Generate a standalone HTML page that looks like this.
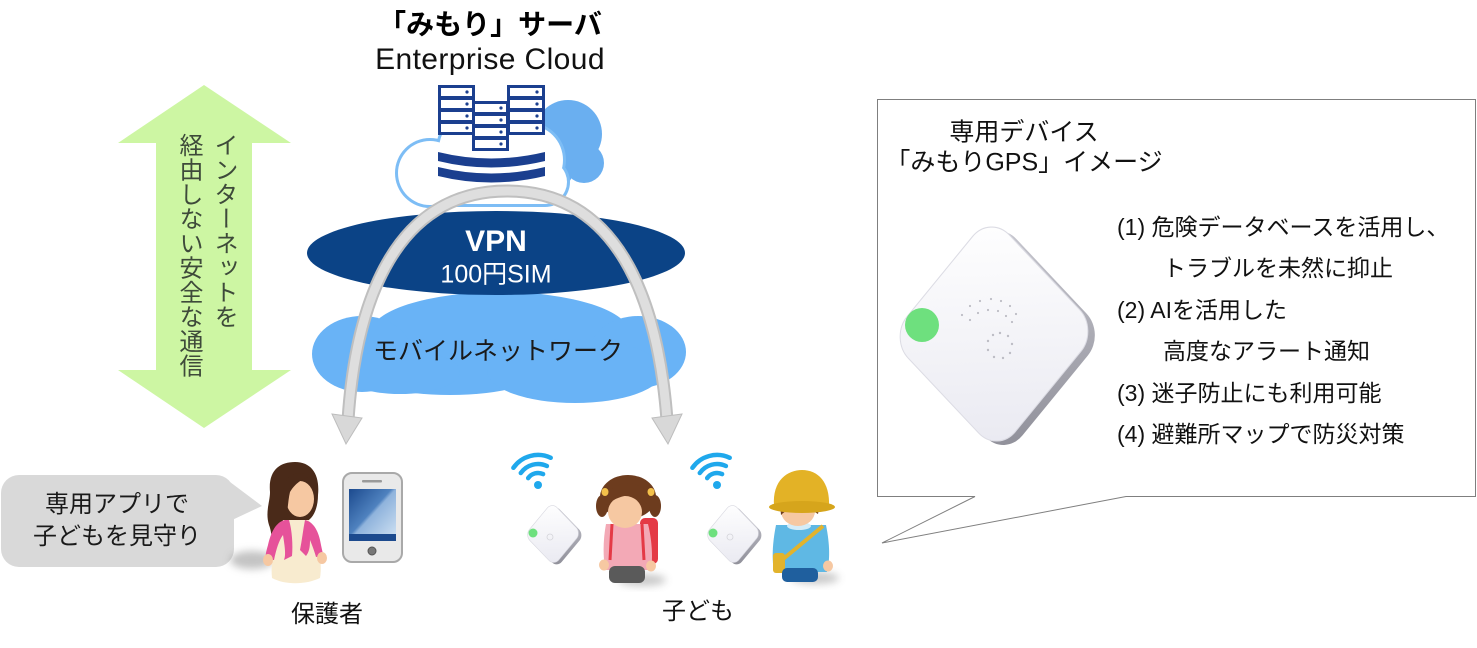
<!DOCTYPE html>
<html><head><meta charset="utf-8">
<style>
html,body{margin:0;padding:0;background:#fff;}
body{width:1477px;height:648px;position:relative;overflow:hidden;font-family:"Liberation Sans","Noto Sans CJK JP",sans-serif;color:#000;}
svg{position:absolute;left:0;top:0;}
.t{position:absolute;white-space:nowrap;line-height:1;}
.c{transform:translate(-50%,-50%);}
.li{position:absolute;left:1117px;font-size:23px;line-height:23px;white-space:nowrap;color:#111;}
</style></head><body>
<svg width="1477" height="648" viewBox="0 0 1477 648">
<defs>
<filter id="blur" x="-50%" y="-50%" width="200%" height="200%"><feGaussianBlur stdDeviation="4"/></filter>
<linearGradient id="scr" x1="0" y1="0" x2="1" y2="1"><stop offset="0" stop-color="#1c4a8e"/><stop offset=".45" stop-color="#4f82bf"/><stop offset=".5" stop-color="#8fb3dc"/><stop offset="1" stop-color="#d3e4f4"/></linearGradient>
<linearGradient id="dev" x1="0" y1="0" x2="1" y2="1"><stop offset="0" stop-color="#ffffff"/><stop offset="1" stop-color="#e9e9f1"/></linearGradient>
<linearGradient id="edge" x1="0" y1="0" x2="1" y2="1"><stop offset="0" stop-color="#c8c8d0"/><stop offset="1" stop-color="#8e8e98"/></linearGradient>
</defs>

<!-- green double arrow -->
<polygon points="204,85 291,143 252,143 252,370 291,370 204,428 118,370 156,370 156,143 118,143" fill="#cdf6a3"/>

<!-- server cloud back (filled) -->
<g fill="#6aaff0">
<circle cx="568" cy="134" r="34"/>
<circle cx="584" cy="163" r="20"/>
<circle cx="552" cy="168" r="22"/>
</g>
<!-- front cloud outline -->
<g fill="#7dbdf5">
<circle cx="430" cy="173" r="35"/>
<circle cx="480" cy="150" r="44"/>
<circle cx="528" cy="160" r="38"/>
<circle cx="545" cy="182" r="25"/>
<rect x="430" y="165" width="115" height="42"/>
</g>
<g fill="#fff">
<circle cx="430" cy="173" r="32"/>
<circle cx="480" cy="150" r="41"/>
<circle cx="528" cy="160" r="35"/>
<circle cx="545" cy="182" r="22"/>
<rect x="430" y="165" width="115" height="39"/>
</g>

<!-- servers -->
<g fill="#1b3f8f">
<rect x="438" y="85" width="37" height="50"/>
<rect x="507" y="85" width="38" height="50"/>
<rect x="472" y="101" width="37" height="50"/>
<path d="M438,152 Q491,165 545,152 L545,161 Q491,174 438,161Z"/>
<path d="M438,167 Q491,180 545,167 L545,176 Q491,189 438,176Z"/>
</g>
<g fill="#fff">
<rect x="441" y="88" width="31" height="8"/><rect x="441" y="100" width="31" height="8"/><rect x="441" y="112" width="31" height="8"/><rect x="441" y="124" width="31" height="8"/>
<rect x="510" y="88" width="32" height="8"/><rect x="510" y="100" width="32" height="8"/><rect x="510" y="112" width="32" height="8"/><rect x="510" y="124" width="32" height="8"/>
<rect x="475" y="104" width="31" height="8"/><rect x="475" y="116" width="31" height="8"/><rect x="475" y="128" width="31" height="8"/><rect x="475" y="140" width="31" height="8"/>
</g>
<g fill="#1b3f8f">
<circle cx="467" cy="92" r="1.6"/><circle cx="467" cy="104" r="1.6"/><circle cx="467" cy="116" r="1.6"/><circle cx="467" cy="128" r="1.6"/>
<circle cx="537" cy="92" r="1.6"/><circle cx="537" cy="104" r="1.6"/><circle cx="537" cy="116" r="1.6"/><circle cx="537" cy="128" r="1.6"/>
<circle cx="501" cy="108" r="1.6"/><circle cx="501" cy="120" r="1.6"/><circle cx="501" cy="132" r="1.6"/><circle cx="501" cy="144" r="1.6"/>
</g>

<!-- mobile network cloud -->
<g fill="#69b3f6">
<ellipse cx="500" cy="334" rx="130" ry="42"/>
<ellipse cx="362" cy="354" rx="50" ry="38"/>
<ellipse cx="638" cy="352" rx="48" ry="36"/>
<ellipse cx="450" cy="368" rx="95" ry="27"/>
<ellipse cx="575" cy="371" rx="88" ry="32"/>
<ellipse cx="400" cy="372" rx="60" ry="22"/>
</g>
<!-- VPN ellipse -->
<ellipse cx="496" cy="253" rx="189" ry="42" fill="#0b4386"/>

<!-- arch arrow -->
<path d="M348,420 C356,300 396,191 507,191 C618,191 658,300 667,420" fill="none" stroke="#bfbfbf" stroke-width="13"/>
<path d="M348,420 C356,300 396,191 507,191 C618,191 658,300 667,420" fill="none" stroke="#dedede" stroke-width="9"/>
<polygon points="332,414 362,418 346,444" fill="#d8d8d8" stroke="#bdbdbd" stroke-width="1"/>
<polygon points="652,418 682,414 668,444" fill="#d8d8d8" stroke="#bdbdbd" stroke-width="1"/>

<!-- bubble -->
<rect x="1" y="475" width="233" height="92" rx="18" fill="#d9d9d9"/>
<polygon points="226,479 262,506 230,521" fill="#d9d9d9"/>

<!-- mother -->
<ellipse cx="252" cy="560" rx="22" ry="9" fill="#888" opacity=".5" filter="url(#blur)"/>
<path d="M270,492 C268,470 280,462 295,462 C312,462 320,475 318,495 C318,510 312,520 305,522 L287,522 C284,535 286,548 278,556 C271,548 273,535 269,525 C265,512 270,502 270,492Z" fill="#4a2a19"/>
<path d="M283,520 L309,520 C317,540 323,560 320,578 C305,585 285,585 272,578 C270,560 276,540 283,520Z" fill="#f8ebcf"/>
<path d="M285,520 C276,522 271,532 268,545 C266,552 265,556 266,560 L274,560 C276,550 279,540 283,535 C285,548 286,555 284,560 L292,556 C293,545 292,530 289,520Z" fill="#e6529a"/>
<path d="M305,520 C314,522 319,532 321,545 C322,550 323,553 323,556 L316,557 C314,550 312,545 310,540 C310,548 309,552 306,556 L300,550 C302,540 303,530 305,520Z" fill="#e6529a"/>
<ellipse cx="268" cy="560" rx="5" ry="6" fill="#f6c8a2"/>
<ellipse cx="322" cy="558" rx="5" ry="6" fill="#f6c8a2"/>
<ellipse cx="300" cy="499" rx="14" ry="18" fill="#f6c8a2"/>
<path d="M284,488 C286,474 298,470 312,476 C304,478 296,482 290,492 C288,500 288,510 286,518 C283,508 283,496 284,488Z" fill="#4a2a19"/>

<!-- phone -->
<rect x="343" y="473" width="59" height="89" rx="9" fill="#e9e9e9" stroke="#a9a9a9" stroke-width="2"/>
<rect x="362" y="480" width="20" height="2.5" rx="1" fill="#9a9a9a"/>
<rect x="349" y="489" width="47" height="52" fill="url(#scr)"/>
<rect x="349" y="534" width="47" height="7" fill="#1c4a8e"/>
<circle cx="372" cy="551" r="4" fill="#777" stroke="#555" stroke-width="1"/>

<!-- wifi 1 -->
<g fill="none" stroke="#1fa8ec" stroke-width="4.5" stroke-linecap="round" transform="translate(538,485)">
<path d="M-9.8,-6.9 A12,12 0 0 1 5.1,-10.9"/>
<path d="M-17.2,-12 A21,21 0 0 1 8.9,-19"/>
<path d="M-24.6,-17.2 A30,30 0 0 1 12.7,-27.2"/>
<circle cx="0" cy="0" r="4" fill="#1fa8ec" stroke="none"/>
</g>
<!-- wifi 2 -->
<g fill="none" stroke="#1fa8ec" stroke-width="4.5" stroke-linecap="round" transform="translate(717,485)">
<path d="M-9.8,-6.9 A12,12 0 0 1 5.1,-10.9"/>
<path d="M-17.2,-12 A21,21 0 0 1 8.9,-19"/>
<path d="M-24.6,-17.2 A30,30 0 0 1 12.7,-27.2"/>
<circle cx="0" cy="0" r="4" fill="#1fa8ec" stroke="none"/>
</g>

<!-- small device 1 -->
<g transform="translate(556,536) scale(1,1.12) rotate(43)"><rect x="-20" y="-20" width="40" height="40" rx="7" fill="url(#edge)"/></g>
<g transform="translate(553,534) scale(1,1.12) rotate(43)"><rect x="-20" y="-20" width="40" height="40" rx="7" fill="url(#dev)" stroke="#d8d8e0" stroke-width=".6"/></g>
<circle cx="533" cy="533" r="4.5" fill="#6ee07e"/>
<circle cx="550" cy="537" r="3" fill="none" stroke="#d4d4da" stroke-width=".8"/>
<!-- small device 2 -->
<g transform="translate(736,536) scale(1,1.12) rotate(43)"><rect x="-20" y="-20" width="40" height="40" rx="7" fill="url(#edge)"/></g>
<g transform="translate(733,534) scale(1,1.12) rotate(43)"><rect x="-20" y="-20" width="40" height="40" rx="7" fill="url(#dev)" stroke="#d8d8e0" stroke-width=".6"/></g>
<circle cx="713" cy="533" r="4.5" fill="#6ee07e"/>
<circle cx="730" cy="537" r="3" fill="none" stroke="#d4d4da" stroke-width=".8"/>

<!-- girl -->
<ellipse cx="642" cy="580" rx="24" ry="6" fill="#888" opacity=".45" filter="url(#blur)"/>
<rect x="640" y="518" width="18" height="46" rx="5" fill="#e43a46"/>
<ellipse cx="628" cy="497" rx="28" ry="22" fill="#6d3c1e"/>
<ellipse cx="602" cy="506" rx="6" ry="11" fill="#6d3c1e"/>
<ellipse cx="655" cy="506" rx="6" ry="11" fill="#6d3c1e"/>
<ellipse cx="605" cy="492" rx="3.5" ry="4" fill="#f3c14b"/>
<ellipse cx="651" cy="492" rx="3.5" ry="4" fill="#f3c14b"/>
<path d="M606,524 L648,524 C652,540 653,558 651,570 L605,570 C603,555 603,540 606,524Z" fill="#f3a9b6"/>
<ellipse cx="625" cy="512" rx="17" ry="16" fill="#f6c8a2"/>
<path d="M606,505 C606,488 620,481 634,484 C646,487 652,496 650,508 C644,498 634,494 624,496 C616,498 610,502 606,505Z" fill="#6d3c1e"/>
<path d="M612,524 L610,560 M642,524 L644,560" stroke="#e43a46" stroke-width="3"/>
<ellipse cx="604" cy="565" rx="5" ry="5.5" fill="#f6c8a2"/>
<ellipse cx="651" cy="566" rx="5" ry="5.5" fill="#f6c8a2"/>
<rect x="609" y="566" width="36" height="17" rx="6" fill="#5a5a5a"/>

<!-- boy -->
<ellipse cx="815" cy="578" rx="24" ry="6" fill="#888" opacity=".45" filter="url(#blur)"/>
<path d="M776,525 L826,525 C830,545 830,560 827,572 L774,572 C772,560 772,545 776,525Z" fill="#5fb8e4"/>
<ellipse cx="799" cy="526" rx="12" ry="4" fill="#d4ecf8"/>
<ellipse cx="798" cy="511" rx="17" ry="15" fill="#f6c8a2"/>
<path d="M780,504 L820,504 L818,514 C812,510 806,508 800,508 C792,508 786,510 781,515Z" fill="#6b3a1e"/>
<path d="M774,506 C772,480 788,470 802,470 C818,470 830,482 829,506 Z" fill="#e3b226"/>
<ellipse cx="802" cy="507" rx="33" ry="6" fill="#d6a51c"/>
<line x1="823" y1="526" x2="782" y2="560" stroke="#e2b32c" stroke-width="4"/>
<rect x="773" y="553" width="12" height="20" rx="3" fill="#e2b32c"/>
<rect x="782" y="568" width="36" height="14" rx="5" fill="#1f5f9e"/>
<ellipse cx="828" cy="566" rx="5" ry="5.5" fill="#f6c8a2"/>

<!-- callout box -->
<path d="M877.5,99.5 H1475.5 V496.5 H1126 L882,543 L975,496.5 H877.5 Z" fill="#fff" stroke="#7f7f7f" stroke-width="1"/>

<!-- big device -->
<g transform="translate(1001,338) scale(1,1.14) rotate(43)"><rect x="-74" y="-74" width="148" height="148" rx="26" fill="url(#edge)"/></g>
<g transform="translate(994,334) scale(1,1.14) rotate(43)"><rect x="-74" y="-74" width="148" height="148" rx="26" fill="url(#dev)" stroke="#dcdce4" stroke-width="1"/></g>
<circle cx="922" cy="325" r="17" fill="#6ee07e"/>
<g fill="#bdbdc5">
<circle cx="1000" cy="333" r="1.2"/><circle cx="1008" cy="336" r="1.2"/><circle cx="1012" cy="344" r="1.2"/><circle cx="1010" cy="353" r="1.2"/><circle cx="1003" cy="358" r="1.2"/><circle cx="994" cy="357" r="1.2"/><circle cx="988" cy="350" r="1.2"/><circle cx="988" cy="341" r="1.2"/><circle cx="993" cy="335" r="1.2"/>
<circle cx="962" cy="315" r="1.1"/><circle cx="970" cy="306" r="1.1"/><circle cx="980" cy="301" r="1.1"/><circle cx="991" cy="299" r="1.1"/><circle cx="1001" cy="301" r="1.1"/><circle cx="1010" cy="306" r="1.1"/><circle cx="1016" cy="314" r="1.1"/>
<circle cx="970" cy="320" r="1.1"/><circle cx="978" cy="313" r="1.1"/><circle cx="988" cy="310" r="1.1"/><circle cx="998" cy="311" r="1.1"/><circle cx="1006" cy="316" r="1.1"/><circle cx="1012" cy="322" r="1.1"/>
</g>
</svg>

<!-- text -->
<div class="t c" style="left:490px;top:25px;font-size:28px;font-weight:bold;">「みもり」サーバ</div>
<div class="t c" style="left:490px;top:60px;font-size:30px;letter-spacing:0.4px;color:#111;">Enterprise Cloud</div>

<div class="t" style="left:170px;top:133px;width:71px;height:260px;writing-mode:vertical-rl;font-size:24px;line-height:35px;letter-spacing:0.5px;color:#3e4a3a;white-space:nowrap;">インターネットを<br>経由しない安全な通信</div>

<div class="t c" style="left:496px;top:242px;font-size:30px;font-weight:bold;color:#fff;">VPN</div>
<div class="t c" style="left:496px;top:275px;font-size:25px;color:#fff;">100円SIM</div>
<div class="t c" style="left:498px;top:352px;font-size:25px;color:#1a1a1a;">モバイルネットワーク</div>

<div class="t c" style="left:117px;top:505px;font-size:24px;color:#1a1a1a;">専用アプリで</div>
<div class="t c" style="left:117px;top:537px;font-size:24px;color:#1a1a1a;">子どもを見守り</div>

<div class="t c" style="left:327px;top:615px;font-size:24px;color:#111;">保護者</div>
<div class="t c" style="left:698px;top:612px;font-size:24px;color:#111;">子ども</div>

<div class="t c" style="left:1024px;top:133px;font-size:25px;color:#111;">専用デバイス</div>
<div class="t c" style="left:1024px;top:163px;font-size:25px;color:#111;">「みもりGPS」イメージ</div>

<div class="li" style="top:216px;">(1) 危険データベースを活用し、</div>
<div class="li" style="top:257px;left:1163px;">トラブルを未然に抑止</div>
<div class="li" style="top:299px;">(2) AIを活用した</div>
<div class="li" style="top:340px;left:1163px;">高度なアラート通知</div>
<div class="li" style="top:382px;">(3) 迷子防止にも利用可能</div>
<div class="li" style="top:423px;">(4) 避難所マップで防災対策</div>
</body></html>
